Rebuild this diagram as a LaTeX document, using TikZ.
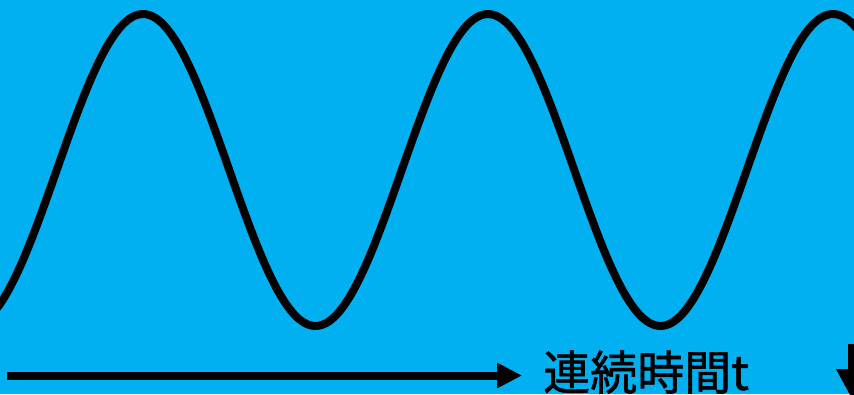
\documentclass[tikz,border=0pt]{standalone}
\usepackage{fontspec}
\usepackage{tikz}
\usetikzlibrary{arrows.meta}
\newfontfamily\jpfont[AutoFakeBold=1.2]{Noto Sans CJK JP}
\definecolor{sky}{HTML}{00B0F0}
\definecolor{ink}{HTML}{000000}

\begin{document}
\begin{tikzpicture}[
  x=1pt,
  y=1pt,
  wave/.style={
    draw=ink,line width=8pt,line join=round
  },
  axisarrow/.style={
    -{Triangle[length=25pt,width=24pt]},line width=8pt,draw=ink
  },
  markarrow/.style={
    -{Triangle[length=30pt,width=30pt]},line width=8pt,draw=ink
  },
  axislabel/.style={font=\jpfont\bfseries\fontsize{47}{50}\selectfont,text=ink,inner sep=0pt}
]
  % background and frame
  \useasboundingbox (0,0) rectangle (854,394);
  \fill[sky] (0,0) rectangle (854,394);
  \clip (0,0) rectangle (854,394);

  % continuous signal
  \draw[wave] plot[domain=-20:880,samples=240,smooth]
    (\x,{224+156*cos((\x-143)/345*360)});

  % time axis
  \coordinate (axis-start) at (7,18.5);
  \coordinate (axis-end) at (522,18.5);
  \draw[axisarrow] (axis-start) -- (axis-end);
  \node[axislabel,anchor=west] (axis-label) at (543,22) {連続時間t};

  % sample marker at the right edge
  \coordinate (mark-top) at (852,50);
  \coordinate (mark-tip) at (852,-5);
  \draw[markarrow] (mark-top) -- (mark-tip);
\end{tikzpicture}
\end{document}
